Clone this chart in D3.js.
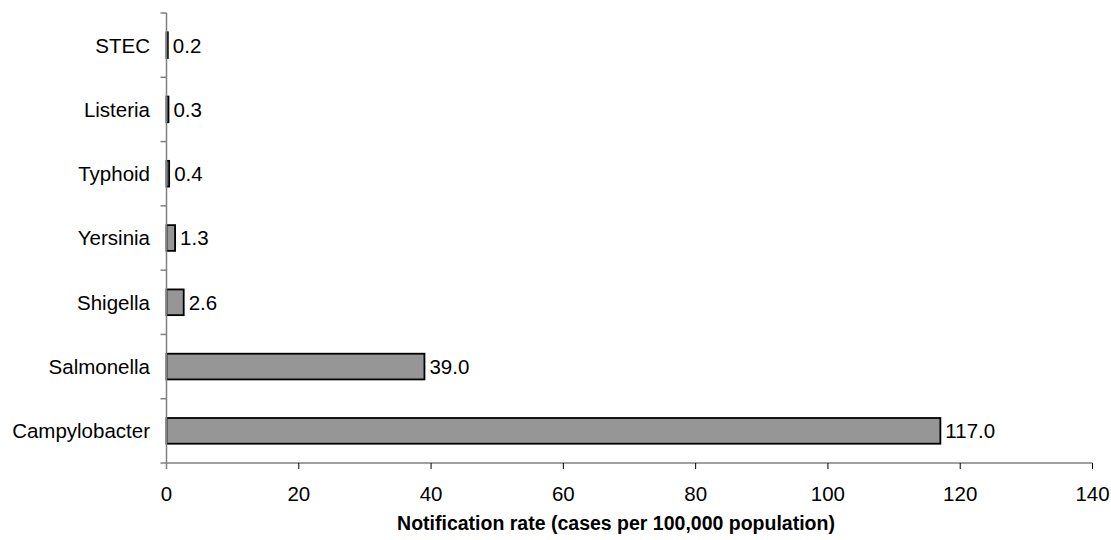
<!DOCTYPE html>
<html><head><meta charset="utf-8">
<script src="https://cdn.jsdelivr.net/npm/d3@7"></script>
<style>body{margin:0;background:#fff}svg{display:block}text{font-family:"Liberation Sans",Arial,sans-serif}</style>
</head><body>
<svg id="c" width="1111" height="540"></svg>
<script>
const categories = ["STEC","Listeria","Typhoid","Yersinia","Shigella","Salmonella","Campylobacter"];
const values = [0.2,0.3,0.4,1.3,2.6,39.0,117.0];
const xTicks = [0,20,40,60,80,100,120,140];
const xTitle = "Notification rate (cases per 100,000 population)";

const svg = d3.select("#c");
const L = 166.5, R = 1092.5, T = 13, B = 463;
const FS = 20.5;
const x = d3.scaleLinear().domain([0,140]).range([L,R]);
const y = d3.scaleBand().domain(categories).range([T,B]).paddingInner(0.6).paddingOuter(0.3);
const data = categories.map((c,i)=>({c, v:values[i]}));

svg.selectAll("rect.bar").data(data).join("rect").attr("class","bar")
  .attr("x", x(0)).attr("y", d=>y(d.c)).attr("width", d=>x(d.v)-x(0)).attr("height", y.bandwidth())
  .attr("fill","#969696").attr("stroke","#000").attr("stroke-width",1.8);

svg.selectAll("text.val").data(data).join("text").attr("class","val")
  .attr("x", d=>x(d.v)+5).attr("y", d=>y(d.c)+y.bandwidth()/2).attr("dy","0.36em")
  .attr("font-size",FS).attr("fill","#000").text(d=>d.v.toFixed(1));

// y axis
const ax = svg.append("g");
ax.append("line").attr("x1",L).attr("x2",L).attr("y1",T).attr("y2",B+6).attr("stroke","#808080").attr("stroke-width",1.5);
const bounds = d3.range(categories.length+1).map(i=>T + i*(B-T)/categories.length);
ax.selectAll("line.yt").data(bounds).join("line").attr("class","yt")
  .attr("x1",L-6).attr("x2",L).attr("y1",d=>d).attr("y2",d=>d).attr("stroke","#808080").attr("stroke-width",1.5);
ax.selectAll("text.yl").data(categories).join("text").attr("class","yl")
  .attr("x",150).attr("y",d=>y(d)+y.bandwidth()/2).attr("dy","0.36em").attr("text-anchor","end")
  .attr("font-size",FS).attr("fill","#000").text(d=>d);

// x axis
const gx = svg.append("g");
gx.append("line").attr("x1",L).attr("x2",R).attr("y1",B).attr("y2",B).attr("stroke","#808080").attr("stroke-width",1.5);
gx.selectAll("line.xt").data(xTicks.slice(1)).join("line").attr("class","xt")
  .attr("x1",d=>x(d)).attr("x2",d=>x(d)).attr("y1",B).attr("y2",B+6).attr("stroke","#000").attr("stroke-width",1);
gx.selectAll("text.xl").data(xTicks).join("text").attr("class","xl")
  .attr("x",d=>x(d)).attr("y",500.5).attr("text-anchor","middle").attr("font-size",FS).attr("fill","#000").text(d=>d);
svg.append("text").attr("x",616).attr("y",530).attr("text-anchor","middle")
  .attr("font-size",19.5).attr("font-weight","bold").attr("fill","#000").text(xTitle);
</script>
</body></html>
